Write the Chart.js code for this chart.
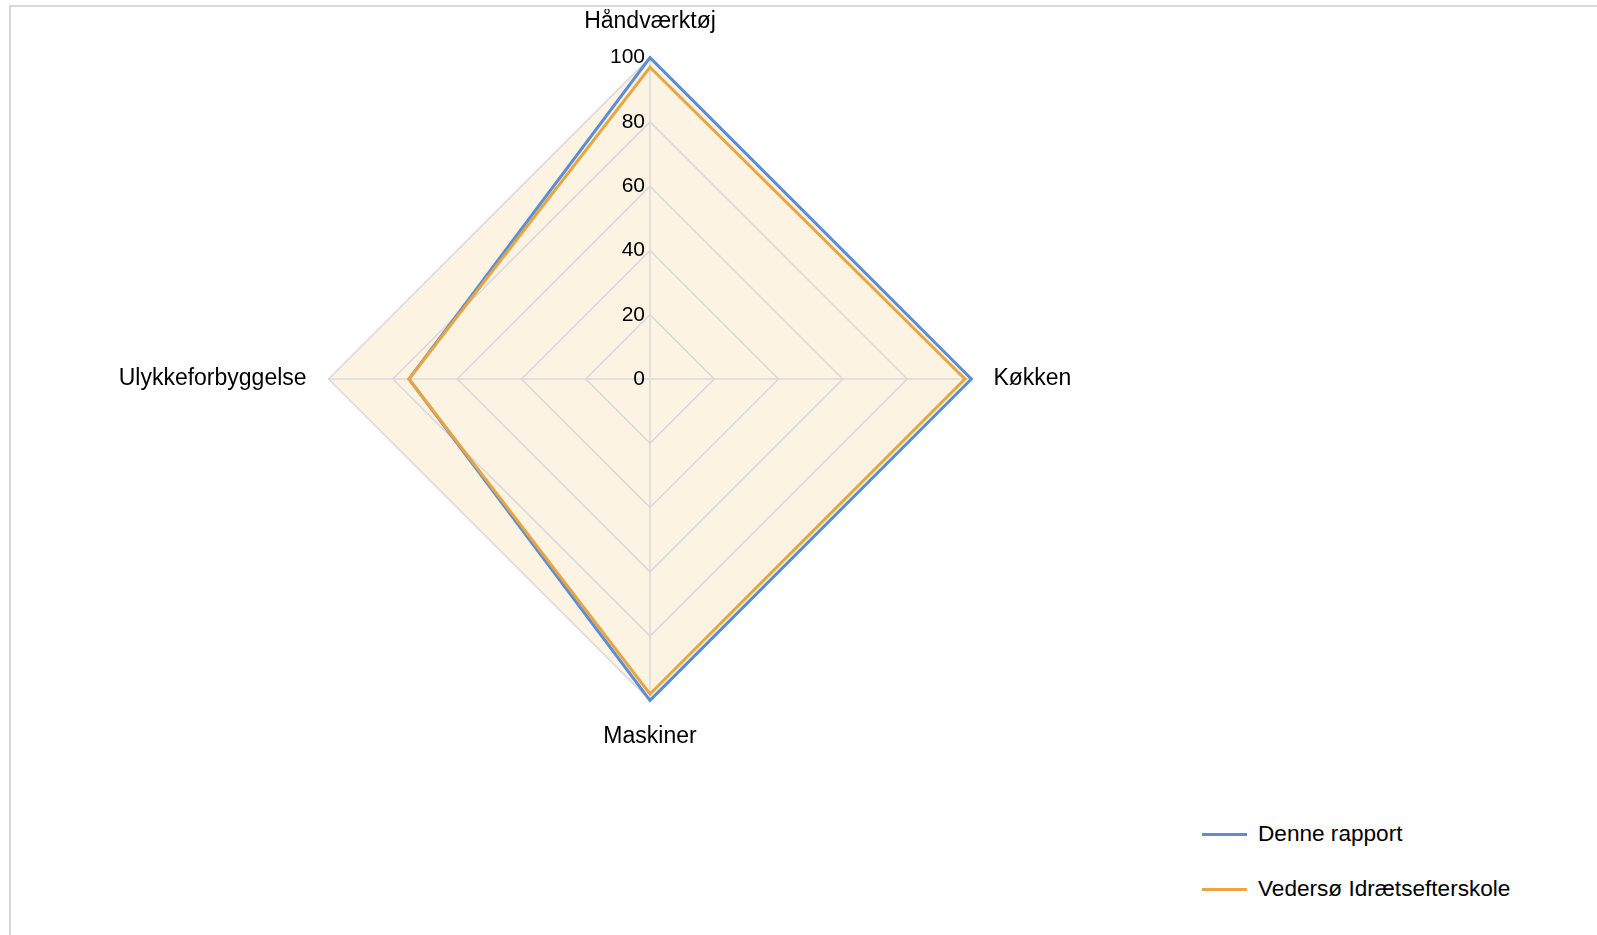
<!DOCTYPE html>
<html>
<head>
<meta charset="utf-8">
<script src="https://cdn.jsdelivr.net/npm/chart.js@4.4.1/dist/chart.umd.min.js"></script>
<style>
    html, body {
        margin: 0;
        padding: 0;
        background: #fff;
        width: 1597px;
        height: 935px;
        overflow: hidden;
        font-family: "Liberation Sans", Arial, sans-serif;
    }

    #frame {
        position: absolute;
        left: 9px;
        top: 5px;
        width: 1600px;
        height: 940px;
        border-top: 2px solid #d9d9d9;
        border-left: 2px solid #d9d9d9;
    }

    #radarChart {
        position: absolute;
        left: 21px;
        top: 9px;
    }

    #legend {
        position: absolute;
        left: 1202px;
        top: 820px;
        margin: 0;
        padding: 0;
        list-style: none;
    }

    #legend li {
        display: flex;
        align-items: center;
        height: 28px;
        margin-bottom: 27px;
        font-size: 22.6px;
        color: #000;
        white-space: nowrap;
    }

    #legend li span {
        display: inline-block;
        width: 45px;
        height: 3px;
        margin-right: 11px;
    }
</style>
</head>
<body>
<div id="frame"></div>
<canvas id="radarChart" width="1258" height="742"></canvas>
<ul id="legend"></ul>

<script>
const categories = ["Håndværktøj", "Køkken", "Maskiner", "Ulykkeforbyggelse"]

const denneRapport = [100, 100, 100, 75]
const vedersoe = [97, 98, 98, 75]

const seriesNames = ["Denne rapport", "Vedersø Idrætsefterskole"]

const tickValues = [0, 20, 40, 60, 80, 100]

const BLUE = "#5b8ed6"
const ORANGE = "#e8a640"
const BEIGE = "#fdf3e3"
const GRID = "#dbd8dc"

// tick labels sit left of the vertical axis, right aligned
const tickLabelsPlugin = {
    id: "tickLabels",
    afterDatasetsDraw(chart) {
        const scale = chart.scales.r
        const ctx = chart.ctx

        ctx.save()
        ctx.font = "21px 'Liberation Sans', Arial, sans-serif"
        ctx.fillStyle = "#000"
        ctx.textAlign = "right"
        ctx.textBaseline = "middle"

        scale.ticks.forEach(tick => {
            const y = scale.yCenter - scale.getDistanceFromCenterForValue(tick.value)
            ctx.fillText(String(tick.value), scale.xCenter - 5, y)
        })

        ctx.restore()
    }
}

const htmlLegendPlugin = {
    id: "htmlLegend",
    afterUpdate(chart) {
        const list = document.getElementById("legend")
        list.innerHTML = ""

        chart.data.datasets.forEach(ds => {
            const li = document.createElement("li")
            const line = document.createElement("span")
            line.style.background = ds.borderColor
            li.appendChild(line)
            li.appendChild(document.createTextNode(ds.label))
            list.appendChild(li)
        })
    }
}

const radarChart = new Chart(
    document.getElementById("radarChart"),
    {
        type: "radar",

        data: {
            labels: categories,

            datasets: [
                {
                    label: seriesNames[0],
                    data: denneRapport,
                    borderColor: BLUE,
                    borderWidth: 3,
                    fill: false,
                    pointRadius: 0,
                    pointHoverRadius: 0,
                    order: 1
                },
                {
                    label: seriesNames[1],
                    data: vedersoe,
                    borderColor: ORANGE,
                    borderWidth: 3,
                    fill: false,
                    pointRadius: 0,
                    pointHoverRadius: 0,
                    order: 0
                }
            ]
        },

        options: {
            responsive: false,
            animation: false,
            devicePixelRatio: 1,
            layout: {
                padding: 0
            },

            plugins: {
                legend: {
                    display: false
                },
                tooltip: {
                    enabled: false
                }
            },

            scales: {
                r: {
                    min: 0,
                    max: 100,
                    backgroundColor: BEIGE,
                    ticks: {
                        display: false,
                        stepSize: 20
                    },
                    afterBuildTicks(scale) {
                        scale.ticks = tickValues.map(v => ({ value: v }))
                    },
                    grid: {
                        color: GRID,
                        lineWidth: 1.5
                    },
                    angleLines: {
                        color: GRID,
                        lineWidth: 1.5
                    },
                    pointLabels: {
                        color: "#000",
                        padding: 22,
                        font: {
                            family: "'Liberation Sans', Arial, sans-serif",
                            size: 23
                        }
                    }
                }
            }
        },

        plugins: [tickLabelsPlugin, htmlLegendPlugin]
    }
)
</script>
</body>
</html>
